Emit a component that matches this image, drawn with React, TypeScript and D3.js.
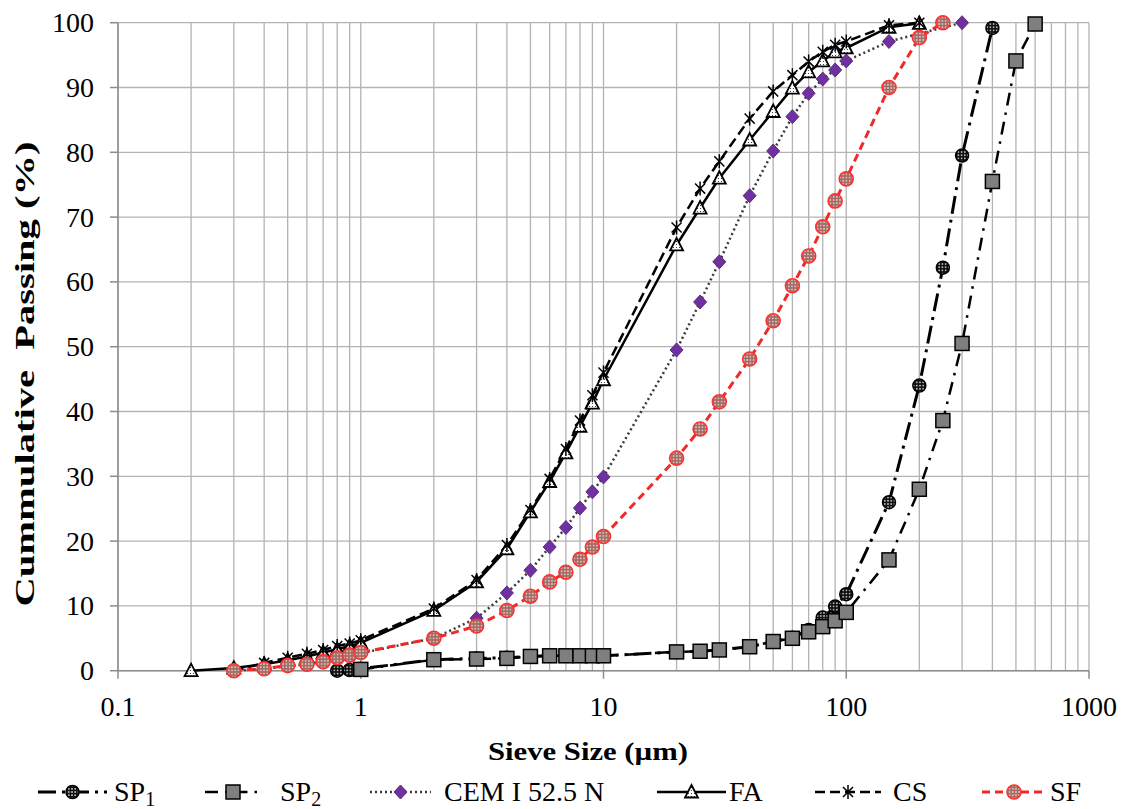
import React, { useEffect } from "react";
import * as d3 from "d3";

const SP1_size = [0.8, 0.9, 1, 2, 3, 4, 5, 6, 7, 8, 9, 10, 20, 25, 30, 40, 50, 60, 70, 80, 90, 100, 150, 200, 250, 300, 400];
const SP1_pass = [0, 0.1, 0.3, 1.7, 1.9, 2.0, 2.2, 2.3, 2.3, 2.3, 2.3, 2.3, 2.9, 3.0, 3.2, 3.7, 4.5, 5.1, 6.3, 8.2, 9.9, 11.8, 26.0, 44.0, 62.2, 79.5, 99.2];

const SP2_size = [1, 2, 3, 4, 5, 6, 7, 8, 9, 10, 20, 25, 30, 40, 50, 60, 70, 80, 90, 100, 150, 200, 250, 300, 400, 500, 600];
const SP2_pass = [0.2, 1.7, 1.8, 1.9, 2.2, 2.3, 2.3, 2.3, 2.3, 2.3, 2.9, 3.0, 3.2, 3.7, 4.5, 5.0, 6.0, 6.8, 7.7, 9.0, 17.1, 28.0, 38.6, 50.5, 75.5, 94.1, 99.8];

const CEM_size = [0.3, 0.4, 0.5, 0.6, 0.7, 0.8, 0.9, 1, 2, 3, 4, 5, 6, 7, 8, 9, 10, 20, 25, 30, 40, 50, 60, 70, 80, 90, 100, 150, 300];
const CEM_pass = [0, 0.3, 0.7, 1.0, 1.4, 2.0, 2.3, 2.7, 5.0, 8.1, 12.0, 15.5, 19.1, 22.1, 25.1, 27.6, 29.9, 49.5, 56.9, 63.1, 73.3, 80.2, 85.5, 89.1, 91.3, 92.7, 94.1, 97.1, 100];

const FA_size = [0.2, 0.3, 0.4, 0.5, 0.6, 0.7, 0.8, 0.9, 1, 2, 3, 4, 5, 6, 7, 8, 9, 10, 20, 25, 30, 40, 50, 60, 70, 80, 90, 100, 150, 200];
const FA_pass = [0, 0.4, 1.0, 1.6, 2.2, 2.8, 3.3, 3.8, 4.3, 9.3, 13.7, 18.8, 24.5, 29.2, 33.6, 37.7, 41.3, 44.9, 65.7, 71.4, 76.0, 81.9, 86.3, 89.9, 92.4, 94.1, 95.5, 96.1, 99.3, 99.9];

const CS_size = [0.3, 0.4, 0.5, 0.6, 0.7, 0.8, 0.9, 1, 2, 3, 4, 5, 6, 7, 8, 9, 10, 20, 25, 30, 40, 50, 60, 70, 80, 90, 100, 150, 200];
const CS_pass = [0, 1.2, 2.0, 2.6, 3.2, 3.8, 4.2, 4.7, 9.6, 14.0, 19.4, 24.8, 29.6, 34.2, 38.6, 42.5, 46.0, 68.4, 74.4, 78.6, 85.2, 89.4, 91.9, 94.0, 95.5, 96.6, 97.1, 99.6, 100];

const SF_size = [0.3, 0.4, 0.5, 0.6, 0.7, 0.8, 0.9, 1, 2, 3, 4, 5, 6, 7, 8, 9, 10, 20, 25, 30, 40, 50, 60, 70, 80, 90, 100, 150, 200, 250];
const SF_pass = [0, 0.3, 0.8, 1.0, 1.4, 2.0, 2.4, 2.8, 5.0, 6.9, 9.3, 11.5, 13.7, 15.2, 17.2, 19.1, 20.7, 32.8, 37.3, 41.5, 48.1, 54.0, 59.4, 64.0, 68.5, 72.5, 75.9, 90.0, 97.7, 100];

const xTicks = [0.1, 1, 10, 100, 1000];
const xTickLabels = ["0.1", "1", "10", "100", "1000"];
const yTicks = [0, 10, 20, 30, 40, 50, 60, 70, 80, 90, 100];

const X_TITLE = "Sieve Size (µm)";
const Y_TITLE = "Cummulative  Passing (%)";

const SERIF = "'Liberation Serif', 'Times New Roman', serif";

type Kind = "sp1" | "sp2" | "cem" | "fa" | "cs" | "sf";

const seriesList: { name: string; sub?: string; kind: Kind; sizes: number[]; vals: number[]; stroke: string; dash: string; width: number }[] = [
  { name: "SP", sub: "1", kind: "sp1", sizes: SP1_size, vals: SP1_pass, stroke: "#000", dash: "18,6,3,6", width: 3 },
  { name: "SP", sub: "2", kind: "sp2", sizes: SP2_size, vals: SP2_pass, stroke: "#000", dash: "13,7,2.5,7", width: 2.5 },
  { name: "CEM I 52.5 N", kind: "cem", sizes: CEM_size, vals: CEM_pass, stroke: "#3a3a3a", dash: "2,3", width: 2.5 },
  { name: "FA", kind: "fa", sizes: FA_size, vals: FA_pass, stroke: "#000", dash: "", width: 2.5 },
  { name: "CS", kind: "cs", sizes: CS_size, vals: CS_pass, stroke: "#000", dash: "10,5", width: 2.5 },
  { name: "SF", kind: "sf", sizes: SF_size, vals: SF_pass, stroke: "#ee2a2a", dash: "8,5", width: 3 },
];

const legendPos = [
  { x1: 38, x2: 107, tx: 114 },
  { x1: 205, x2: 261, tx: 280 },
  { x1: 370, x2: 431, tx: 444 },
  { x1: 657, x2: 726, tx: 729 },
  { x1: 815, x2: 881, tx: 893 },
  { x1: 982, x2: 1046, tx: 1050 },
];

function Marker({ kind, cx, cy }: { kind: Kind; cx: number; cy: number }) {
  switch (kind) {
    case "sp1":
      return <circle cx={cx} cy={cy} r={6.5} fill="url(#patSP1)" stroke="#000" strokeWidth={1.5} />;
    case "sp2":
      return <rect x={cx - 7} y={cy - 7} width={14} height={14} fill="#7f7f7f" stroke="#000" strokeWidth={1.5} />;
    case "cem":
      return <path d={`M${cx},${cy - 7}L${cx + 6.5},${cy}L${cx},${cy + 7}L${cx - 6.5},${cy}Z`} fill="#7030a0" stroke="#5a2a80" strokeWidth={1} />;
    case "fa":
      return <path d={`M${cx},${cy - 7}L${cx + 6.5},${cy + 5.5}L${cx - 6.5},${cy + 5.5}Z`} fill="url(#patFA)" stroke="#000" strokeWidth={1.8} />;
    case "cs": {
      const r = 7;
      const d = r * 0.72;
      return (
        <path
          d={`M${cx},${cy - r}L${cx},${cy + r}M${cx - d},${cy - d}L${cx + d},${cy + d}M${cx - d},${cy + d}L${cx + d},${cy - d}`}
          stroke="#000"
          strokeWidth={1.5}
          fill="none"
        />
      );
    }
    case "sf":
      return <circle cx={cx} cy={cy} r={7} fill="url(#patSF)" stroke="#ff3030" strokeWidth={1.6} />;
  }
  return null;
}

export default function App() {
  useEffect(() => {
    document.body.style.margin = "0";
  }, []);

  const W = 1122;
  const H = 809;
  const x = d3.scaleLog().domain([0.1, 1000]).range([118, 1089]);
  const y = d3.scaleLinear().domain([0, 100]).range([670.7, 22.7]);

  const vGrid: number[] = [];
  for (let k = -1; k <= 2; k++) {
    for (let d = 1; d <= 9; d++) vGrid.push(d * Math.pow(10, k));
  }
  vGrid.push(1000);

  const line = d3
    .line<[number, number]>()
    .x((d) => x(d[0]))
    .y((d) => y(d[1]));

  return (
    <svg width={W} height={H} style={{ display: "block", background: "#fff" }} fontFamily={SERIF}>
      <defs>
        <pattern id="patSP1" width="3.2" height="3.2" patternUnits="userSpaceOnUse">
          <rect width="3.2" height="3.2" fill="#111" />
          <circle cx="1.6" cy="1.6" r="0.75" fill="#fff" />
        </pattern>
        <pattern id="patSF" width="3.2" height="3.2" patternUnits="userSpaceOnUse">
          <rect width="3.2" height="3.2" fill="#a86a66" />
          <circle cx="1.6" cy="1.6" r="0.75" fill="#e4efe0" />
        </pattern>
        <pattern id="patFA" width="3" height="3" patternUnits="userSpaceOnUse">
          <rect width="3" height="3" fill="#fff" />
          <circle cx="1.5" cy="1.5" r="0.6" fill="#222" />
        </pattern>
      </defs>

      {/* gridlines */}
      <g stroke="#b3b3b3" strokeWidth={1.3}>
        {vGrid.map((v, i) => (
          <line key={"v" + i} x1={x(v)} x2={x(v)} y1={y(0)} y2={y(100)} />
        ))}
        {yTicks.map((v) => (
          <line key={"h" + v} x1={x(0.1)} x2={x(1000)} y1={y(v)} y2={y(v)} />
        ))}
      </g>
      {/* axes */}
      <g stroke="#8c8c8c" strokeWidth={1.5}>
        <line x1={x(0.1)} x2={x(0.1)} y1={y(0)} y2={y(100)} />
        <line x1={x(0.1)} x2={x(1000)} y1={y(0)} y2={y(0)} />
        {yTicks.map((v) => (
          <line key={"yt" + v} x1={x(0.1) - 8} x2={x(0.1)} y1={y(v)} y2={y(v)} />
        ))}
        {xTicks.map((v) => (
          <line key={"xt" + v} x1={x(v)} x2={x(v)} y1={y(0)} y2={y(0) + 8} />
        ))}
      </g>

      {/* tick labels */}
      <g fontSize={28} fill="#000">
        {yTicks.map((v) => (
          <text key={"yl" + v} x={94} y={y(v)} textAnchor="end" dominantBaseline="central">
            {v}
          </text>
        ))}
        {xTicks.map((v, i) => (
          <text key={"xl" + v} x={x(v)} y={716} textAnchor="middle">
            {xTickLabels[i]}
          </text>
        ))}
      </g>

      {/* axis titles */}
      <text x={588} y={760} textAnchor="middle" fontWeight="bold" fontSize={26} textLength={200} lengthAdjust="spacingAndGlyphs">
        {X_TITLE}
      </text>
      <text
        transform="translate(34,374) rotate(-90)"
        textAnchor="middle"
        fontWeight="bold"
        fontSize={28}
        textLength={465}
        lengthAdjust="spacingAndGlyphs"
        style={{ whiteSpace: "pre" }}
      >
        {Y_TITLE}
      </text>

      {/* series lines */}
      {seriesList.map((s) => (
        <path
          key={"l" + s.kind}
          d={line(s.sizes.map((v, i) => [v, s.vals[i]] as [number, number])) || ""}
          fill="none"
          stroke={s.stroke}
          strokeWidth={s.width}
          strokeDasharray={s.dash || undefined}
        />
      ))}
      {/* series markers */}
      {seriesList.map((s) => (
        <g key={"m" + s.kind}>
          {s.sizes.map((v, i) => (
            <Marker key={i} kind={s.kind} cx={x(v)} cy={y(s.vals[i])} />
          ))}
        </g>
      ))}

      {/* legend */}
      {seriesList.map((s, i) => {
        const p = legendPos[i];
        const ly = 792;
        return (
          <g key={"lg" + s.kind}>
            <line x1={p.x1} x2={p.x2} y1={ly} y2={ly} stroke={s.stroke} strokeWidth={s.width} strokeDasharray={s.dash || undefined} />
            <Marker kind={s.kind} cx={(p.x1 + p.x2) / 2} cy={ly} />
            <text x={p.tx} y={801} fontSize={28} fill="#000">
              {s.name}
              {s.sub ? (
                <tspan fontSize={20} dy={5}>
                  {s.sub}
                </tspan>
              ) : null}
            </text>
          </g>
        );
      })}
    </svg>
  );
}
